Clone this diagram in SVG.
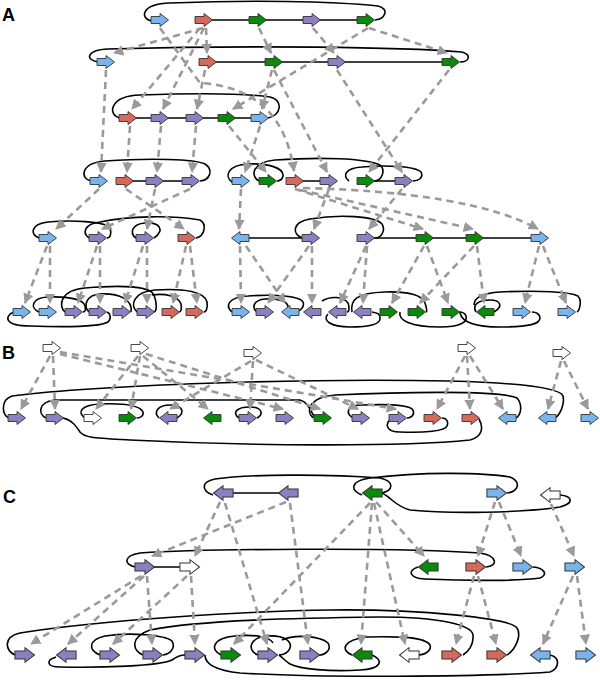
<svg xmlns="http://www.w3.org/2000/svg" xmlns:xlink="http://www.w3.org/1999/xlink" width="600" height="680" viewBox="0 0 600 680">
<style>
.bl{fill:#7ab4ec}.rd{fill:#d6695c}.gn{fill:#0a8a0a}.pu{fill:#8f7ec2}.wh{fill:#ffffff}
.lp{fill:none;stroke:#000;stroke-width:1.6}
.cn{fill:none;stroke:#9a9a9a;stroke-width:2.6;stroke-dasharray:7 5;marker-end:url(#ah)}
.lab{font-family:"Liberation Sans",Arial,sans-serif;font-weight:bold;font-size:18px;fill:#000}
</style>
<defs>
<path id="R" d="M-9,-3.5 H0 V-6.5 L8.5,0 L0,6.5 V3.5 H-9 Z" stroke="#333" stroke-width="0.9"/>
<path id="L" d="M9,-3.5 H0 V-6.5 L-8.5,0 L0,6.5 V3.5 H9 Z" stroke="#333" stroke-width="0.9"/>
<marker id="ah" viewBox="0 0 10 10" refX="9" refY="5" markerWidth="4" markerHeight="4" orient="auto" markerUnits="strokeWidth">
<path d="M0,0 L10,5 L0,10 Z" fill="#9a9a9a"/>
</marker>
</defs>
<rect width="600" height="680" fill="#fff"/>
<text class="lab" x="2" y="21">A</text>
<text class="lab" x="2" y="359">B</text>
<text class="lab" x="3" y="503">C</text>

<g id="loops">
<!-- Panel A -->
<line class="lp" x1="204" y1="20" x2="366" y2="20"/>
<path class="lp" d="M152,21 C140,19 140,4 170,3 C250,0 330,1 378,6 C390,9 385,19 375,20"/>
<line class="lp" x1="208" y1="62" x2="451" y2="62"/>
<path class="lp" d="M98,62 C85,60 86,50 108,49 C250,45 400,47 462,52 C472,55 469,62 460,62"/>
<line class="lp" x1="128" y1="118" x2="260" y2="118"/>
<path class="lp" d="M120,118 C108,116 108,96 140,95 C200,93 250,94 270,97 C284,100 281,116 268,118"/>
<line class="lp" x1="125" y1="181" x2="191" y2="181"/>
<path class="lp" d="M91,181 C80,179 80,163 105,161 C150,158 195,159 205,164 C214,170 210,180 200,181"/>
<path class="lp" d="M232,182 C224,176 228,165 248,164 C268,163 284,168 283,176 C282,180 279,181 277,181"/>
<path class="lp" d="M259,181 C250,176 252,162 275,160 C320,157 365,158 380,165 C386,170 382,180 375,181"/>
<line class="lp" x1="295" y1="181" x2="329" y2="181"/>
<line class="lp" x1="366" y1="181" x2="404" y2="181"/>
<path class="lp" d="M349,181 C342,176 345,168 362,167 C385,165 415,166 421,172 C424,178 418,181 413,181"/>
<path class="lp" d="M39,238 C30,235 30,224 48,222 C70,220 105,221 110,228 C112,234 110,238 107,238"/>
<path class="lp" d="M89,238 C82,233 84,224 100,222 C130,216 170,215 200,220 C207,224 205,236 196,238"/>
<path class="lp" d="M136,238 C129,233 132,224 145,223 C160,222 165,230 154,238"/>
<line class="lp" x1="240" y1="238" x2="311" y2="238"/>
<line class="lp" x1="366" y1="238" x2="540" y2="238"/>
<path class="lp" d="M302,238 C292,234 292,222 310,219 C340,214 375,216 382,224 C386,231 381,238 375,238"/>
<path class="lp" d="M14,312 C4,316 4,326 30,326 C60,327 100,327 108,322 C112,318 110,313 107,312"/>
<path class="lp" d="M39,312 C30,308 31,298 48,297 C70,296 84,300 85,306 C86,310 85,312 83,312"/>
<path class="lp" d="M65,312 C58,306 60,290 85,288 C120,285 150,286 154,295 C157,303 157,311 154,312"/>
<path class="lp" d="M89,312 C83,306 86,295 100,294 C120,293 133,300 131,312"/>
<path class="lp" d="M137,312 C130,305 133,292 155,290 C185,288 205,292 207,302 C208,308 206,312 204,312"/>
<path class="lp" d="M152,295 C165,293 178,296 181,304 C182,309 181,312 179,312"/>
<path class="lp" d="M232,312 C225,306 228,297 248,296 C275,294 300,296 303,302 C305,307 300,311 296,312"/>
<path class="lp" d="M257,312 C251,307 254,300 265,299 C280,298 288,302 288,307"/>
<path class="lp" d="M322,301 C330,296 343,296 348,303 C350,308 349,312 347,312"/>
<path class="lp" d="M352,312 C350,300 356,293 385,292 C410,291 423,296 425,303 C427,309 427,312 426,312"/>
<path class="lp" d="M328,314 C322,320 330,327 350,327 C370,327 381,324 380,318 C380,314 378,313 372,312"/>
<path class="lp" d="M400,312 C398,320 410,327 440,327 C460,327 468,322 466,316 C465,313 462,312 459,312"/>
<path class="lp" d="M474,305 C474,297 485,293 500,292 C540,290 570,292 578,296 C582,300 580,310 577,312"/>
<path class="lp" d="M476,312 C472,305 478,300 490,300 C500,300 504,306 494,312"/>
<path class="lp" d="M460,313 C462,322 475,327 500,327 C530,327 540,324 540,318 C540,314 536,312 532,312"/>
<!-- Panel B -->
<path class="lp" d="M9,418 C2,416 0,400 12,396 C100,385 300,378 450,381 C520,383 560,388 563,396 C565,404 560,415 555,418"/>
<path class="lp" d="M46,418 C38,414 38,402 55,400 L300,400 C308,402 310,410 315,418"/>
<path class="lp" d="M313,418 C305,410 310,397 335,395 C400,392 500,390 517,398 C523,405 521,415 516,418"/>
<path class="lp" d="M63,418 C72,420 76,426 80,432 C85,438 95,438 130,440 C250,446 400,447 470,440 C482,437 484,428 479,419"/>
<path class="lp" d="M85,418 C77,413 80,405 100,404 C125,403 140,406 143,412 C144,416 140,418 137,418"/>
<path class="lp" d="M159,418 C153,412 158,405 170,405 C182,405 186,412 177,418"/>
<path class="lp" d="M239,418 C232,413 236,407 250,407 C262,407 264,414 257,418"/>
<path class="lp" d="M353,418 C345,413 347,405 362,405 C390,404 410,405 413,410 C415,415 411,418 407,418"/>
<path class="lp" d="M392,418 C384,424 386,432 400,432 C425,433 445,431 447,426 C449,421 446,418 442,418"/>
<!-- Panel C -->
<line class="lp" x1="223" y1="493" x2="288" y2="493"/>
<path class="lp" d="M213,495 C202,491 200,482 215,479 C250,474 330,474 380,478 C394,481 394,490 382,493"/>
<path class="lp" d="M362,495 C350,490 350,481 370,478 C420,472 480,472 510,477 C522,482 518,492 507,493"/>
<path class="lp" d="M382,493 C392,498 395,506 410,510 C450,514 520,513 560,507 C575,503 572,496 560,495"/>
<line class="lp" x1="145" y1="567" x2="190" y2="567"/>
<path class="lp" d="M135,567 C124,564 123,556 140,553 C200,549 400,547 480,553 C498,556 498,566 486,567"/>
<path class="lp" d="M418,567 C408,570 408,578 425,579 C470,581 520,581 540,578 C548,575 545,568 533,567"/>
<path class="lp" d="M15,655 C5,650 3,637 20,633 C100,620 250,611 330,610 C420,609 510,618 517,628 C522,636 515,650 507,655"/>
<path class="lp" d="M143,655 C132,650 130,637 150,630 C200,620 300,618 380,617 C440,617 472,625 473,635 C474,645 468,652 463,655"/>
<path class="lp" d="M100,655 C88,650 88,640 105,636 C130,632 165,635 172,641 C176,648 170,654 163,655"/>
<path class="lp" d="M221,655 C210,650 212,638 235,636 C255,634 270,637 273,643"/>
<path class="lp" d="M258,655 C246,650 250,637 268,636 C285,635 292,642 290,648 C289,652 284,655 279,655"/>
<path class="lp" d="M282,640 C295,634 320,636 328,643 C332,650 325,655 319,655"/>
<path class="lp" d="M352,655 C340,650 343,640 367,637 C400,636 425,637 430,645 C432,650 425,655 419,655"/>
<path class="lp" d="M56,657 C46,660 46,667 60,667 C100,668 160,666 172,660 C176,657 180,655 185,655"/>
<path class="lp" d="M205,655 C205,662 212,670 240,673 C320,678 480,677 550,672 C560,668 560,657 550,655"/>
<path class="lp" d="M372,655 C384,660 382,669 360,670 C330,672 300,669 290,664 C285,661 282,657 279,655"/>
</g>

<g id="connectors">
<!-- A row1 -> row2/3/4 -->
<path class="cn" d="M203,28 L114,53"/>
<path class="cn" d="M206,28 L207,53"/>
<path class="cn" d="M259,28 L271,53"/>
<path class="cn" d="M313,28 L334,53"/>
<path class="cn" d="M369,28 L447,53"/>
<path class="cn" d="M160,28 L200,83 Q282,88 294,171"/>
<path class="cn" d="M368,28 L233,109"/>
<path class="cn" d="M200,28 L132,109"/>
<path class="cn" d="M204,28 L163,109"/>
<path class="cn" d="M205,70 L197,109"/>
<path class="cn" d="M272,70 L262,109"/>
<path class="cn" d="M106,70 L101,172"/>
<path class="cn" d="M274,70 L327,172"/>
<path class="cn" d="M337,70 L402,172"/>
<path class="cn" d="M449,70 L369,172"/>
<path class="cn" d="M130,126 L127,172"/>
<path class="cn" d="M161,126 L157,172"/>
<path class="cn" d="M196,126 L192,172"/>
<path class="cn" d="M229,126 L266,172"/>
<path class="cn" d="M260,126 L245,172"/>
<!-- A row4 -> row5 -->
<path class="cn" d="M99,189 L56,229"/>
<path class="cn" d="M126,189 L184,229"/>
<path class="cn" d="M155,189 L147,229"/>
<path class="cn" d="M190,189 L102,229"/>
<path class="cn" d="M241,189 L239,229"/>
<path class="cn" d="M329,189 L314,229"/>
<path class="cn" d="M402,189 L369,229"/>
<path class="cn" d="M295,189 L423,229"/>
<path class="cn" d="M300,190 L473,229"/>
<path class="cn" d="M303,188 Q470,192 538,229"/>
<!-- A row5 -> row6 -->
<path class="cn" d="M47,246 L25,303"/>
<path class="cn" d="M50,246 L50,303"/>
<path class="cn" d="M97,246 L78,303"/>
<path class="cn" d="M100,246 L100,303"/>
<path class="cn" d="M143,246 L125,303"/>
<path class="cn" d="M147,246 L147,303"/>
<path class="cn" d="M186,246 L173,303"/>
<path class="cn" d="M190,246 L197,303"/>
<path class="cn" d="M240,246 L241,303"/>
<path class="cn" d="M246,246 L285,303"/>
<path class="cn" d="M309,246 L268,303"/>
<path class="cn" d="M312,246 L312,303"/>
<path class="cn" d="M366,246 L340,303"/>
<path class="cn" d="M367,246 L363,303"/>
<path class="cn" d="M424,246 L392,303"/>
<path class="cn" d="M427,246 L448,303"/>
<path class="cn" d="M474,246 L420,303"/>
<path class="cn" d="M477,246 L484,303"/>
<path class="cn" d="M539,246 L525,303"/>
<path class="cn" d="M543,246 L566,303"/>
<!-- B -->
<path class="cn" d="M50,356 L21,409"/>
<path class="cn" d="M53,356 L55,409"/>
<path class="cn" d="M60,354 L283,409"/>
<path class="cn" d="M60,352 L396,409"/>
<path class="cn" d="M138,356 L96,409"/>
<path class="cn" d="M140,356 L131,409"/>
<path class="cn" d="M143,356 L208,409"/>
<path class="cn" d="M146,354 L320,409"/>
<path class="cn" d="M251,361 L170,409"/>
<path class="cn" d="M253,361 L250,409"/>
<path class="cn" d="M256,360 L358,409"/>
<path class="cn" d="M465,356 L437,409"/>
<path class="cn" d="M467,356 L470,409"/>
<path class="cn" d="M470,356 L503,409"/>
<path class="cn" d="M561,361 L548,409"/>
<path class="cn" d="M564,361 L588,409"/>
<!-- C -->
<path class="cn" d="M220,502 L195,556"/>
<path class="cn" d="M286,502 L152,556"/>
<path class="cn" d="M225,503 L267,644"/>
<path class="cn" d="M290,503 L308,644"/>
<path class="cn" d="M370,503 L234,644"/>
<path class="cn" d="M372,503 L361,644"/>
<path class="cn" d="M374,503 L405,644"/>
<path class="cn" d="M376,502 L424,556"/>
<path class="cn" d="M495,502 L478,556"/>
<path class="cn" d="M499,502 L521,556"/>
<path class="cn" d="M551,504 L574,556"/>
<path class="cn" d="M141,576 L31,644"/>
<path class="cn" d="M144,576 L68,644"/>
<path class="cn" d="M147,576 L152,644"/>
<path class="cn" d="M187,576 L113,644"/>
<path class="cn" d="M191,576 L195,644"/>
<path class="cn" d="M474,576 L456,644"/>
<path class="cn" d="M478,576 L496,644"/>
<path class="cn" d="M573,576 L543,644"/>
<path class="cn" d="M577,576 L586,644"/>
</g>

<!-- Panel A nodes -->
<g id="A1-1"><use xlink:href="#R" x="160" y="20" class="bl"/></g>
<g id="A1-2"><use xlink:href="#R" x="204" y="20" class="rd"/></g>
<g id="A1-3"><use xlink:href="#R" x="258" y="20" class="gn"/></g>
<g id="A1-4"><use xlink:href="#R" x="312" y="20" class="pu"/></g>
<g id="A1-5"><use xlink:href="#R" x="366" y="20" class="gn"/></g>
<g id="A2-1"><use xlink:href="#R" x="106" y="62" class="bl"/></g>
<g id="A2-2"><use xlink:href="#R" x="208" y="62" class="rd"/></g>
<g id="A2-3"><use xlink:href="#R" x="274" y="62" class="gn"/></g>
<g id="A2-4"><use xlink:href="#R" x="337" y="62" class="pu"/></g>
<g id="A2-5"><use xlink:href="#R" x="451" y="62" class="gn"/></g>
<g id="A3-1"><use xlink:href="#R" x="128" y="118" class="rd"/></g>
<g id="A3-2"><use xlink:href="#R" x="160" y="118" class="pu"/></g>
<g id="A3-3"><use xlink:href="#R" x="195" y="118" class="pu"/></g>
<g id="A3-4"><use xlink:href="#R" x="227" y="118" class="gn"/></g>
<g id="A3-5"><use xlink:href="#R" x="260" y="118" class="bl"/></g>
<g id="A4-1"><use xlink:href="#R" x="99" y="181" class="bl"/></g>
<g id="A4-2"><use xlink:href="#R" x="125" y="181" class="rd"/></g>
<g id="A4-3"><use xlink:href="#R" x="155" y="181" class="pu"/></g>
<g id="A4-4"><use xlink:href="#R" x="191" y="181" class="pu"/></g>
<g id="A4-5"><use xlink:href="#R" x="241" y="181" class="bl"/></g>
<g id="A4-6"><use xlink:href="#R" x="268" y="181" class="gn"/></g>
<g id="A4-7"><use xlink:href="#R" x="295" y="181" class="rd"/></g>
<g id="A4-8"><use xlink:href="#R" x="329" y="181" class="pu"/></g>
<g id="A4-9"><use xlink:href="#R" x="366" y="181" class="gn"/></g>
<g id="A4-10"><use xlink:href="#R" x="404" y="181" class="pu"/></g>
<g id="A5-1"><use xlink:href="#R" x="48" y="238" class="bl"/></g>
<g id="A5-2"><use xlink:href="#R" x="98" y="238" class="pu"/></g>
<g id="A5-3"><use xlink:href="#R" x="145" y="238" class="pu"/></g>
<g id="A5-4"><use xlink:href="#R" x="187" y="238" class="rd"/></g>
<g id="A5-5"><use xlink:href="#L" x="240" y="238" class="bl"/></g>
<g id="A5-6"><use xlink:href="#R" x="311" y="238" class="pu"/></g>
<g id="A5-7"><use xlink:href="#R" x="366" y="238" class="pu"/></g>
<g id="A5-8"><use xlink:href="#R" x="425" y="238" class="gn"/></g>
<g id="A5-9"><use xlink:href="#R" x="475" y="238" class="gn"/></g>
<g id="A5-10"><use xlink:href="#R" x="540" y="238" class="bl"/></g>
<g id="A6-1"><use xlink:href="#R" x="22" y="312" class="bl"/></g>
<g id="A6-2"><use xlink:href="#R" x="48" y="312" class="bl"/></g>
<g id="A6-3"><use xlink:href="#R" x="74" y="312" class="pu"/></g>
<g id="A6-4"><use xlink:href="#R" x="98" y="312" class="pu"/></g>
<g id="A6-5"><use xlink:href="#R" x="122" y="312" class="pu"/></g>
<g id="A6-6"><use xlink:href="#R" x="146" y="312" class="pu"/></g>
<g id="A6-7"><use xlink:href="#R" x="171" y="312" class="rd"/></g>
<g id="A6-8"><use xlink:href="#R" x="195" y="312" class="rd"/></g>
<g id="A6-9"><use xlink:href="#R" x="241" y="312" class="bl"/></g>
<g id="A6-10"><use xlink:href="#R" x="265" y="312" class="pu"/></g>
<g id="A6-11"><use xlink:href="#L" x="290" y="312" class="bl"/></g>
<g id="A6-12"><use xlink:href="#L" x="312" y="312" class="pu"/></g>
<g id="A6-13"><use xlink:href="#L" x="337" y="312" class="pu"/></g>
<g id="A6-14"><use xlink:href="#L" x="362" y="312" class="pu"/></g>
<g id="A6-15"><use xlink:href="#R" x="389" y="312" class="gn"/></g>
<g id="A6-16"><use xlink:href="#R" x="417" y="312" class="gn"/></g>
<g id="A6-17"><use xlink:href="#R" x="451" y="312" class="gn"/></g>
<g id="A6-18"><use xlink:href="#L" x="485" y="312" class="gn"/></g>
<g id="A6-19"><use xlink:href="#R" x="522" y="312" class="bl"/></g>
<g id="A6-20"><use xlink:href="#R" x="567" y="312" class="bl"/></g>

<!-- Panel B nodes -->
<g id="B1-1"><use xlink:href="#R" x="52" y="348" class="wh"/></g>
<g id="B1-2"><use xlink:href="#R" x="140" y="348" class="wh"/></g>
<g id="B1-3"><use xlink:href="#R" x="253" y="353" class="wh"/></g>
<g id="B1-4"><use xlink:href="#R" x="467" y="348" class="wh"/></g>
<g id="B1-5"><use xlink:href="#R" x="562" y="353" class="wh"/></g>
<g id="B2-1"><use xlink:href="#R" x="17" y="418" class="pu"/></g>
<g id="B2-2"><use xlink:href="#R" x="55" y="418" class="pu"/></g>
<g id="B2-3"><use xlink:href="#R" x="93" y="418" class="wh"/></g>
<g id="B2-4"><use xlink:href="#R" x="128" y="418" class="gn"/></g>
<g id="B2-5"><use xlink:href="#L" x="168" y="418" class="pu"/></g>
<g id="B2-6"><use xlink:href="#L" x="212" y="418" class="gn"/></g>
<g id="B2-7"><use xlink:href="#R" x="248" y="418" class="pu"/></g>
<g id="B2-8"><use xlink:href="#R" x="285" y="418" class="pu"/></g>
<g id="B2-9"><use xlink:href="#R" x="323" y="418" class="gn"/></g>
<g id="B2-10"><use xlink:href="#R" x="361" y="418" class="pu"/></g>
<g id="B2-11"><use xlink:href="#R" x="398" y="418" class="pu"/></g>
<g id="B2-12"><use xlink:href="#R" x="433" y="418" class="rd"/></g>
<g id="B2-13"><use xlink:href="#R" x="471" y="418" class="rd"/></g>
<g id="B2-14"><use xlink:href="#L" x="507" y="418" class="bl"/></g>
<g id="B2-15"><use xlink:href="#L" x="547" y="418" class="bl"/></g>
<g id="B2-16"><use xlink:href="#R" x="590" y="418" class="bl"/></g>

<!-- Panel C nodes -->
<g id="C1-1"><use xlink:href="#L" transform="translate(223,493) scale(1.12)" class="pu"/></g>
<g id="C1-2"><use xlink:href="#L" transform="translate(288,493) scale(1.12)" class="pu"/></g>
<g id="C1-3"><use xlink:href="#L" transform="translate(372,493) scale(1.12)" class="gn"/></g>
<g id="C1-4"><use xlink:href="#R" transform="translate(497,493) scale(1.12)" class="bl"/></g>
<g id="C1-5"><use xlink:href="#L" transform="translate(550,495) scale(1.12)" class="wh"/></g>
<g id="C2-1"><use xlink:href="#R" transform="translate(145,567) scale(1.12)" class="pu"/></g>
<g id="C2-2"><use xlink:href="#R" transform="translate(190,567) scale(1.12)" class="wh"/></g>
<g id="C2-3"><use xlink:href="#L" transform="translate(428,567) scale(1.12)" class="gn"/></g>
<g id="C2-4"><use xlink:href="#R" transform="translate(476,567) scale(1.12)" class="rd"/></g>
<g id="C2-5"><use xlink:href="#R" transform="translate(523,567) scale(1.12)" class="bl"/></g>
<g id="C2-6"><use xlink:href="#R" transform="translate(575,567) scale(1.12)" class="bl"/></g>
<g id="C3-1"><use xlink:href="#R" transform="translate(25,655) scale(1.12)" class="pu"/></g>
<g id="C3-2"><use xlink:href="#L" transform="translate(66,655) scale(1.12)" class="pu"/></g>
<g id="C3-3"><use xlink:href="#R" transform="translate(110,655) scale(1.12)" class="pu"/></g>
<g id="C3-4"><use xlink:href="#R" transform="translate(153,655) scale(1.12)" class="pu"/></g>
<g id="C3-5"><use xlink:href="#R" transform="translate(195,655) scale(1.12)" class="pu"/></g>
<g id="C3-6"><use xlink:href="#R" transform="translate(231,655) scale(1.12)" class="gn"/></g>
<g id="C3-7"><use xlink:href="#R" transform="translate(268,655) scale(1.12)" class="pu"/></g>
<g id="C3-8"><use xlink:href="#R" transform="translate(310,655) scale(1.12)" class="pu"/></g>
<g id="C3-9"><use xlink:href="#L" transform="translate(362,655) scale(1.12)" class="gn"/></g>
<g id="C3-10"><use xlink:href="#L" transform="translate(409,655) scale(1.12)" class="wh"/></g>
<g id="C3-11"><use xlink:href="#R" transform="translate(452,655) scale(1.12)" class="rd"/></g>
<g id="C3-12"><use xlink:href="#R" transform="translate(497,655) scale(1.12)" class="rd"/></g>
<g id="C3-13"><use xlink:href="#L" transform="translate(540,655) scale(1.12)" class="bl"/></g>
<g id="C3-14"><use xlink:href="#R" transform="translate(586,655) scale(1.12)" class="bl"/></g>
</svg>
